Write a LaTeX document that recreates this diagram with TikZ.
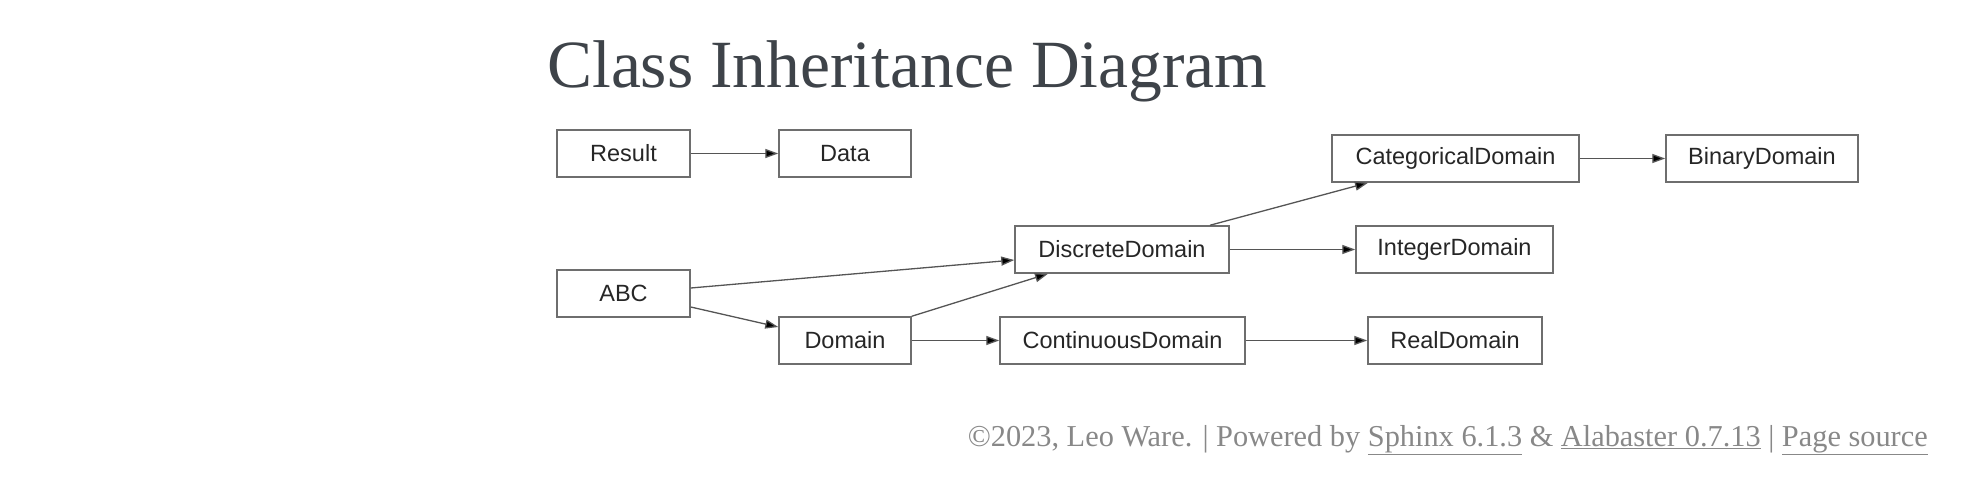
\documentclass[tikz,border=0pt]{standalone}
\usepackage{fontspec}
\setmainfont{Liberation Serif}
\newfontfamily\boxfont{Liberation Sans}
\usetikzlibrary{arrows.meta}
\definecolor{titlecol}{HTML}{3E4349}
\definecolor{footcol}{HTML}{888888}
\definecolor{boxcol}{HTML}{6E6E6E}
\definecolor{edgecol}{HTML}{555555}
\tikzset{
  cls/.style={draw=boxcol, line width=1.5pt, inner sep=0pt, minimum height=47pt,
    font=\boxfont\fontsize{23.5}{24}\selectfont, text=black!85},
  inh/.style={draw=edgecol, line width=1.3pt, -{Triangle[length=13pt,width=9pt,fill=black]}}
}
\begin{document}
\begin{tikzpicture}[x=1pt,y=-1pt]
\useasboundingbox (0,0) rectangle (1982,500);
\node[anchor=base west, inner sep=0pt, text=titlecol] (title) at (547,88)
  {\resizebox{720pt}{!}{\fontsize{60}{60}\selectfont Class Inheritance Diagram}};
\node[cls, minimum width=133pt] (result) at (623.5,153.5) {Result};
\node[cls, minimum width=132pt] (data) at (845,153.5) {Data};
\node[cls, minimum width=133pt] (abc) at (623.5,293.5) {ABC};
\node[cls, minimum width=132pt] (domain) at (845,340.5) {Domain};
\node[cls, minimum width=214pt] (discrete) at (1122,249.5) {DiscreteDomain};
\node[cls, minimum width=245pt] (continuous) at (1122.5,340.5) {ContinuousDomain};
\node[cls, minimum width=247pt] (categorical) at (1455.5,158.5) {CategoricalDomain};
\node[cls, minimum width=192pt] (binary) at (1762,158.5) {BinaryDomain};
\node[cls, minimum width=197pt] (integer) at (1454.5,249.5) {IntegerDomain};
\node[cls, minimum width=174pt] (real) at (1455,340.5) {RealDomain};
\draw[inh] (result) -- (data);
\draw[inh] ([yshift=5.5pt]abc.east) -- ([yshift=-10.5pt]discrete.west);
\draw[inh] ([yshift=-13.5pt]abc.east) -- ([yshift=13.5pt]domain.west);
\draw[inh] (domain.north east) -- ([xshift=-74pt]discrete.south);
\draw[inh] (domain) -- (continuous);
\draw[inh] ([xshift=88pt]discrete.north) -- ([xshift=-87.5pt]categorical.south);
\draw[inh] (discrete) -- (integer);
\draw[inh] (continuous) -- (real);
\draw[inh] (categorical) -- (binary);
\node[anchor=base east, inner sep=0pt, text=footcol] (footer) at (1928,446)
  {\resizebox{960pt}{!}{\fontsize{24}{24}\selectfont \textcopyright2023, Leo Ware. | Powered by \underline{Sphinx 6.1.3} \& \underline{Alabaster 0.7.13} | \underline{Page source}}};
\end{tikzpicture}
\end{document}
